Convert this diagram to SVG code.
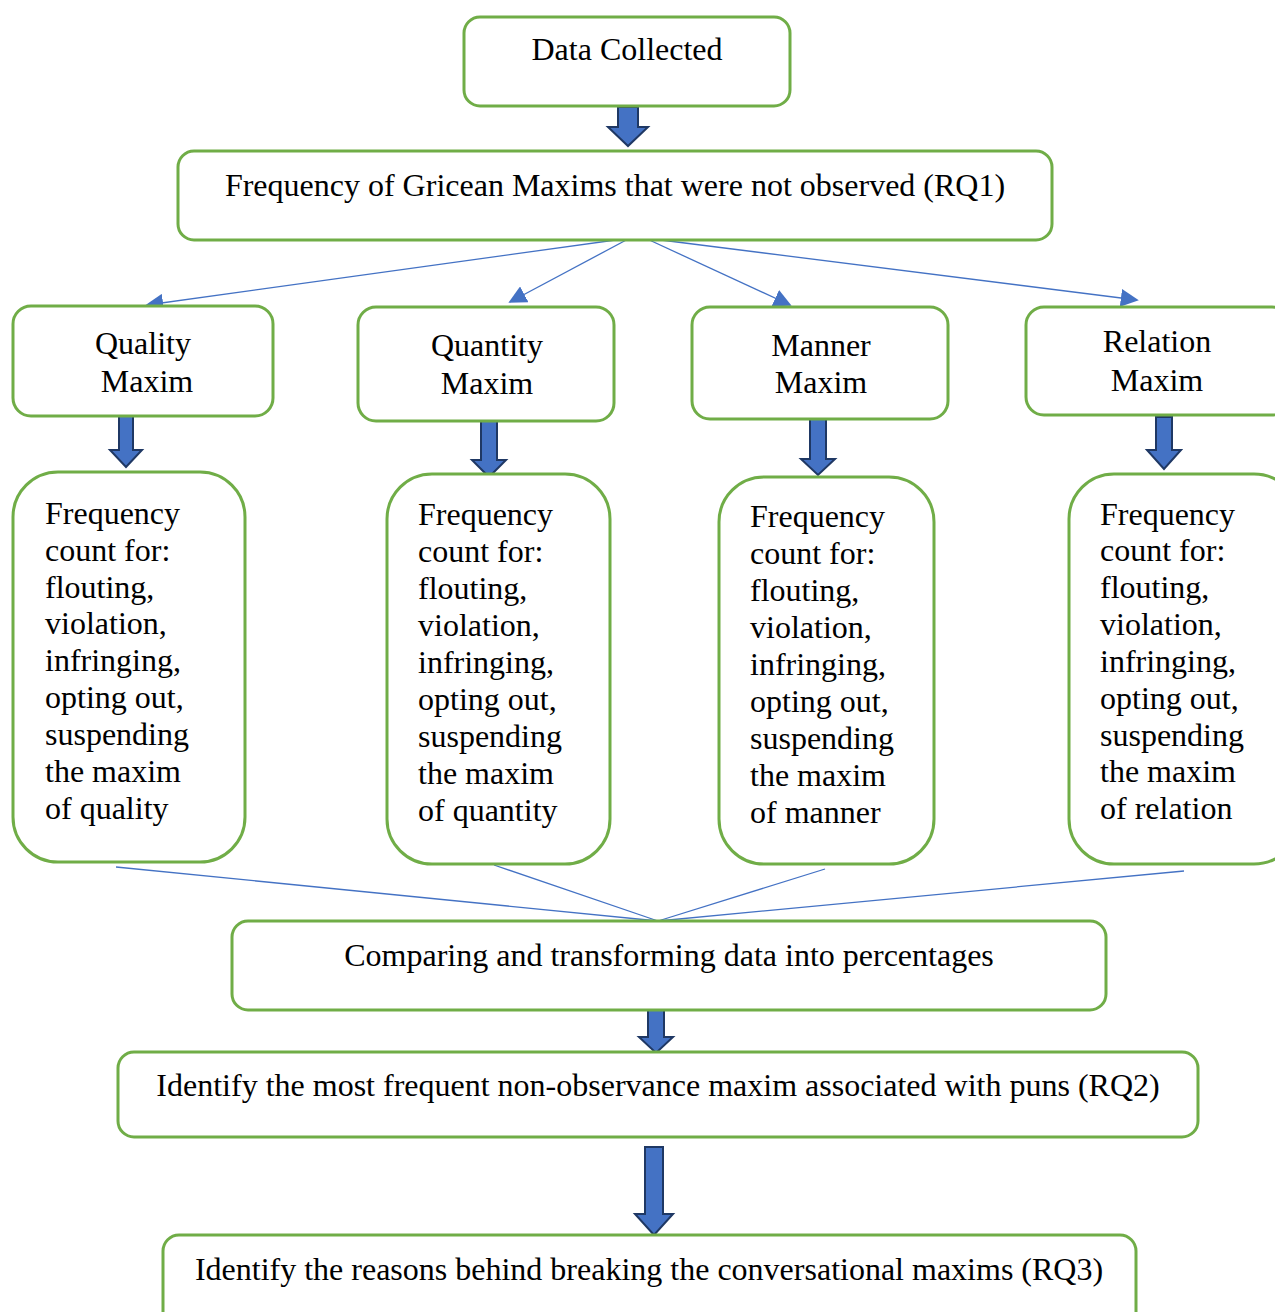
<svg xmlns="http://www.w3.org/2000/svg" width="1275" height="1312" viewBox="0 0 1275 1312">
<style>
.box{fill:#fff;stroke:#70AD47;stroke-width:3}
.t{font-family:"Liberation Serif","Times New Roman",serif;font-size:32px;fill:#000}
.c{text-anchor:middle}
.blk{fill:#4472C4;stroke:#1F3864;stroke-width:2;stroke-linejoin:miter}
.ln{stroke:#4472C4;stroke-width:1.3;fill:none}
</style>
<defs>
<marker id="ah2" viewBox="0 0 10 10" refX="9" refY="5" markerWidth="18" markerHeight="18" markerUnits="userSpaceOnUse" orient="auto">
<path d="M0,0 L10,5 L0,10 z" fill="#4472C4"/>
</marker>
</defs>

<rect width="1275" height="1312" fill="#fff"/>

<g id="connectors">
<line class="ln" x1="630" y1="238" x2="147" y2="305" marker-end="url(#ah2)"/>
<line class="ln" x1="630" y1="238" x2="510" y2="302" marker-end="url(#ah2)"/>
<line class="ln" x1="645" y1="238" x2="790" y2="305" marker-end="url(#ah2)"/>
<line class="ln" x1="645" y1="238" x2="1137" y2="300" marker-end="url(#ah2)"/>
<line class="ln" x1="116" y1="867" x2="658" y2="921"/>
<line class="ln" x1="494" y1="865" x2="658" y2="921"/>
<line class="ln" x1="825" y1="869" x2="658" y2="921"/>
<line class="ln" x1="1184" y1="871" x2="658" y2="921"/>
<polygon class="blk" points="618,107 638,107 638,127 648,127 628,146 608,127 618,127"/>
<polygon class="blk" points="119,412 133,412 133,450 142,450 126,467 110,450 119,450"/>
<polygon class="blk" points="481,418 497,418 497,460 506,460 489,477 472,460 481,460"/>
<polygon class="blk" points="810,417 826,417 826,459 835,459 818,475 801,459 810,459"/>
<polygon class="blk" points="1156,417 1172,417 1172,450 1181,450 1164,469 1147,450 1156,450"/>
<polygon class="blk" points="648,1009 664,1009 664,1037 673,1037 656,1053 639,1037 648,1037"/>
<polygon class="blk" points="645,1147 663,1147 663,1214 673,1214 654,1235 635,1214 645,1214"/>
</g>

<g id="data-collected">
<rect class="box" x="464" y="17" width="326" height="89" rx="16"/>
<text class="t c" x="627" y="60">Data Collected</text>
</g>

<g id="frequency-gricean">
<rect class="box" x="178" y="151" width="874" height="89" rx="16"/>
<text class="t c" x="615" y="196">Frequency of Gricean Maxims that were not observed (RQ1)</text>
</g>

<g id="quality-maxim">
<rect class="box" x="13" y="306" width="260" height="110" rx="18"/>
<text class="t c" x="143" y="354">Quality</text>
<text class="t c" x="147" y="392">Maxim</text>
</g>

<g id="quantity-maxim">
<rect class="box" x="358" y="307" width="256" height="114" rx="18"/>
<text class="t c" x="487" y="356">Quantity</text>
<text class="t c" x="487" y="394">Maxim</text>
</g>

<g id="manner-maxim">
<rect class="box" x="692" y="307" width="256" height="112" rx="18"/>
<text class="t c" x="821" y="356">Manner</text>
<text class="t c" x="821" y="393">Maxim</text>
</g>

<g id="relation-maxim">
<rect class="box" x="1026" y="307" width="264" height="108" rx="18"/>
<text class="t c" x="1157" y="352">Relation</text>
<text class="t c" x="1157" y="391">Maxim</text>
</g>

<g id="count-quality">
<rect class="box" x="13" y="472" width="232" height="390" rx="45"/>
<text class="t" x="45" y="524">Frequency</text>
<text class="t" x="45" y="561">count for:</text>
<text class="t" x="45" y="598">flouting,</text>
<text class="t" x="45" y="634">violation,</text>
<text class="t" x="45" y="671">infringing,</text>
<text class="t" x="45" y="708">opting out,</text>
<text class="t" x="45" y="745">suspending</text>
<text class="t" x="45" y="782">the maxim</text>
<text class="t" x="45" y="819">of quality</text>
</g>

<g id="count-quantity">
<rect class="box" x="387" y="474" width="223" height="390" rx="45"/>
<text class="t" x="418" y="525">Frequency</text>
<text class="t" x="418" y="562">count for:</text>
<text class="t" x="418" y="599">flouting,</text>
<text class="t" x="418" y="636">violation,</text>
<text class="t" x="418" y="673">infringing,</text>
<text class="t" x="418" y="710">opting out,</text>
<text class="t" x="418" y="747">suspending</text>
<text class="t" x="418" y="784">the maxim</text>
<text class="t" x="418" y="821">of quantity</text>
</g>

<g id="count-manner">
<rect class="box" x="719" y="477" width="215" height="387" rx="45"/>
<text class="t" x="750" y="527">Frequency</text>
<text class="t" x="750" y="564">count for:</text>
<text class="t" x="750" y="601">flouting,</text>
<text class="t" x="750" y="638">violation,</text>
<text class="t" x="750" y="675">infringing,</text>
<text class="t" x="750" y="712">opting out,</text>
<text class="t" x="750" y="749">suspending</text>
<text class="t" x="750" y="786">the maxim</text>
<text class="t" x="750" y="823">of manner</text>
</g>

<g id="count-relation">
<rect class="box" x="1069" y="474" width="230" height="390" rx="45"/>
<text class="t" x="1100" y="525">Frequency</text>
<text class="t" x="1100" y="561">count for:</text>
<text class="t" x="1100" y="598">flouting,</text>
<text class="t" x="1100" y="635">violation,</text>
<text class="t" x="1100" y="672">infringing,</text>
<text class="t" x="1100" y="709">opting out,</text>
<text class="t" x="1100" y="746">suspending</text>
<text class="t" x="1100" y="782">the maxim</text>
<text class="t" x="1100" y="819">of relation</text>
</g>

<g id="comparing">
<rect class="box" x="232" y="921" width="874" height="89" rx="16"/>
<text class="t c" x="669" y="966">Comparing and transforming data into percentages</text>
</g>

<g id="identify-frequent">
<rect class="box" x="118" y="1052" width="1080" height="85" rx="16"/>
<text class="t c" x="658" y="1096">Identify the most frequent non-observance maxim associated with puns (RQ2)</text>
</g>

<g id="identify-reasons">
<rect class="box" x="163" y="1235" width="973" height="95" rx="16"/>
<text class="t c" x="649" y="1280">Identify the reasons behind breaking the conversational maxims (RQ3)</text>
</g>
</svg>
